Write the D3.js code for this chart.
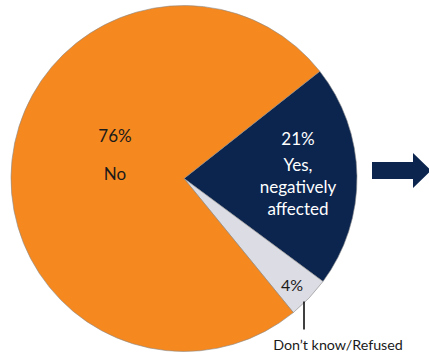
<!DOCTYPE html>
<html>
<head>
<meta charset="utf-8">
<script src="https://cdn.jsdelivr.net/npm/d3@7"></script>
<style>
  body { margin: 0; background: #fff; }
  svg text { font-family: Lato, "Open Sans", sans-serif; }
</style>
</head>
<body>
<svg id="chart" width="429" height="356"></svg>
<script>
const width = 429;
const height = 356;

// slice order goes clockwise from the navy one
const categories = ["Yes, negatively affected", "Don\u2019t know/Refused", "No"];
const values = [21, 4, 76];
const pctLabels = ["21%", "4%", "76%"];
const colors = ["#0b254f", "#dcdce4", "#f5881f"];

const svg = d3.select("#chart");
const cx = 184, cy = 178.5, radius = 173;

const pie = d3.pie()
    .sort(null)
    .value(d => d)
    .startAngle(51.7 * Math.PI / 180)
    .endAngle(51.7 * Math.PI / 180 + 2 * Math.PI);

const arc = d3.arc().innerRadius(0).outerRadius(radius);

const g = svg.append("g").attr("transform", `translate(${cx},${cy})`);
const arcs = pie(values);

g.selectAll("path")
    .data(arcs)
    .enter()
    .append("path")
    .attr("d", arc)
    .attr("fill", (d, i) => colors[i])
    .attr("stroke", "#8a8a8a")
    .attr("stroke-width", 0.6);

// labels placed at fractions of the radius along each slice's mid angle
function pos(d, r) {
    const a = (d.startAngle + d.endAngle) / 2;
    return [Math.sin(a) * r, -Math.cos(a) * r];
}

// Yes slice
const [yx, yy] = pos(arcs[0], 115);
const yesLines = [pctLabels[0], "Yes,", "negatively", "affected"];
const yesOffsets = [-36, -10, 12, 34];
g.selectAll(".yes")
    .data(yesLines)
    .enter()
    .append("text")
    .attr("class", "yes")
    .attr("x", yx - 1)
    .attr("y", (d, i) => yy + yesOffsets[i])
    .attr("text-anchor", "middle")
    .attr("dominant-baseline", "middle")
    .attr("fill", "#fff")
    .attr("font-size", 17)
    .text(d => d);

// No slice
const [nx, ny] = pos(arcs[2], 80);
g.append("text")
    .attr("x", nx + 10.5)
    .attr("y", ny - 32.5)
    .attr("text-anchor", "middle")
    .attr("dominant-baseline", "middle")
    .attr("fill", "#1a1a1a")
    .attr("font-size", 17)
    .text(pctLabels[2]);
g.append("text")
    .attr("x", nx + 10.5)
    .attr("y", ny + 5.5)
    .attr("text-anchor", "middle")
    .attr("dominant-baseline", "middle")
    .attr("fill", "#1a1a1a")
    .attr("font-size", 17)
    .text("No");

// Don't know slice
const [dx, dy] = pos(arcs[1], 155);
g.append("text")
    .attr("x", dx - 4)
    .attr("y", dy + 1)
    .attr("text-anchor", "middle")
    .attr("dominant-baseline", "middle")
    .attr("fill", "#1a1a1a")
    .attr("font-size", 16)
    .text(pctLabels[1]);

g.append("line")
    .attr("x1", 120).attr("x2", 120)
    .attr("y1", 123).attr("y2", 151)
    .attr("stroke", "#000")
    .attr("stroke-width", 1.5);

svg.append("text")
    .attr("x", 338)
    .attr("y", 346)
    .attr("text-anchor", "middle")
    .attr("dominant-baseline", "middle")
    .attr("fill", "#1a1a1a")
    .attr("font-size", 14.3)
    .text(categories[1]);

// arrow pointing right
svg.append("path")
    .attr("d", "M372,162 L413,162 L413,153 L431,170.5 L413,188 L413,179 L372,179 Z")
    .attr("fill", "#0b254f");
</script>
</body>
</html>
